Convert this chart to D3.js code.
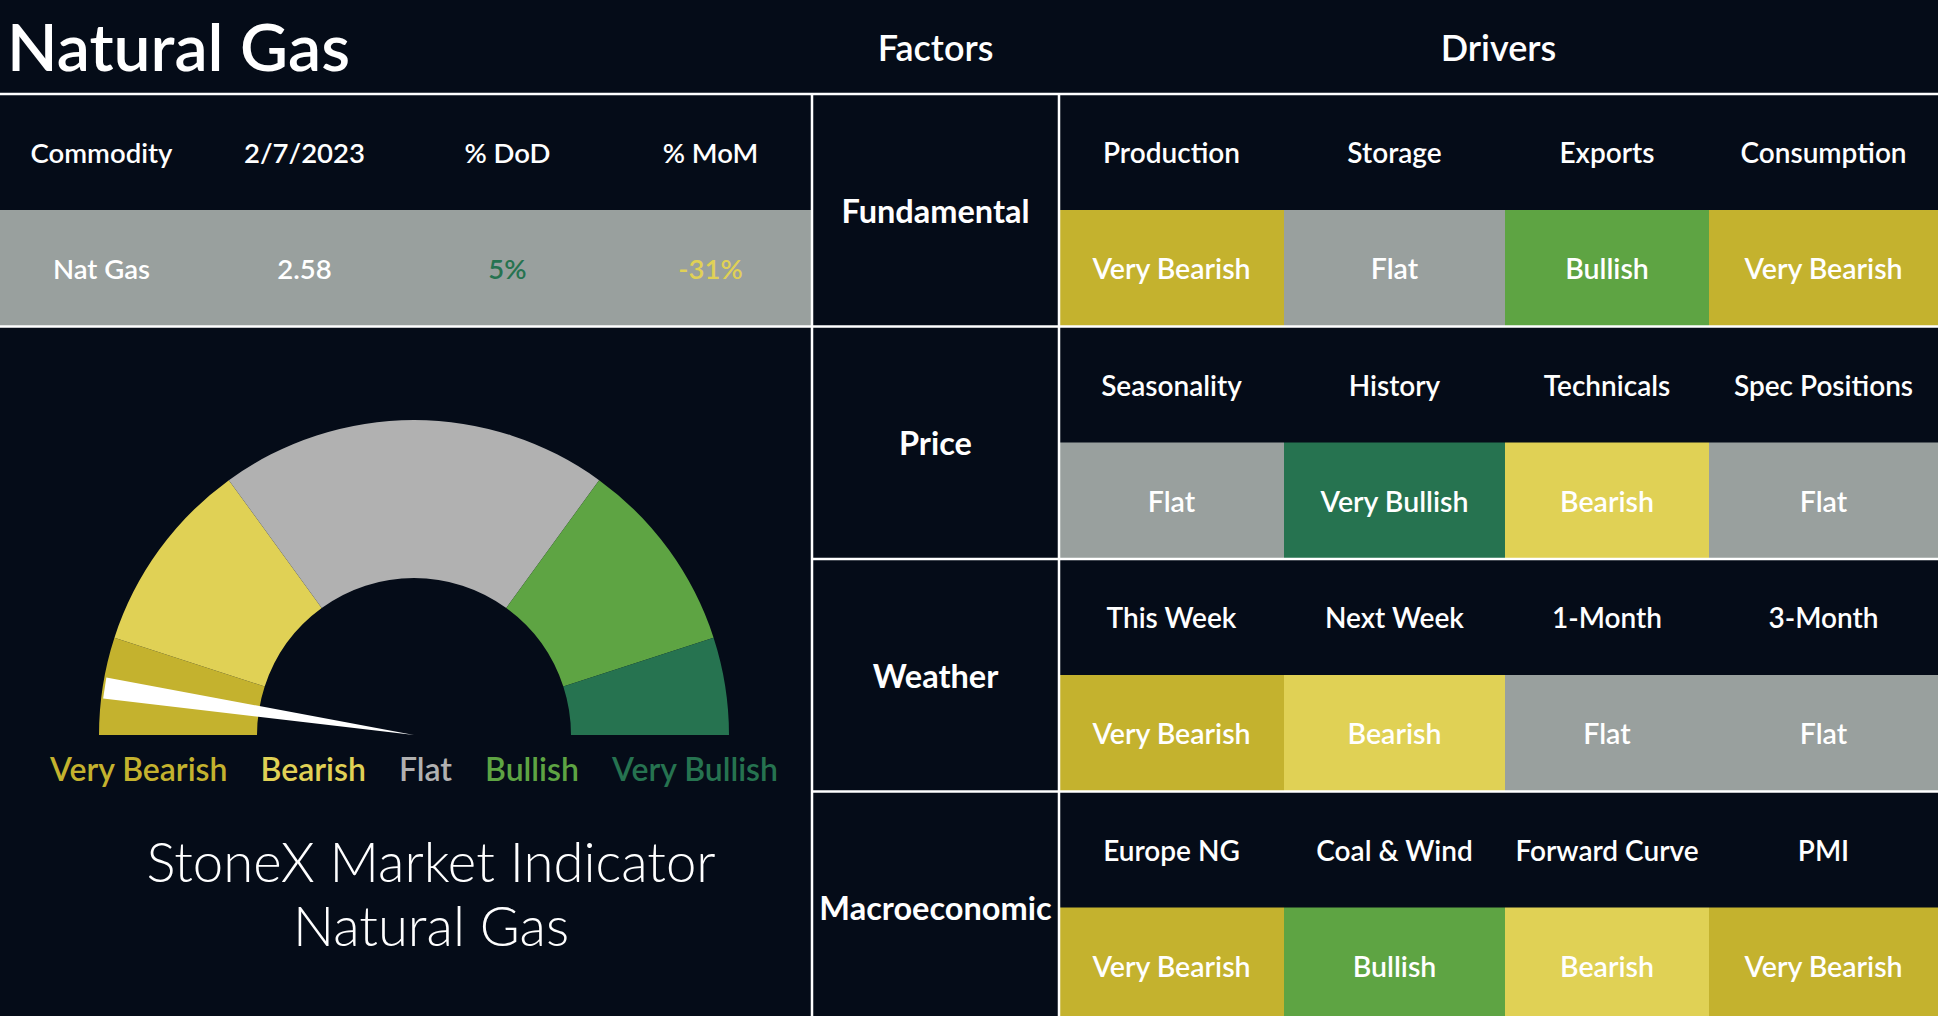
<!DOCTYPE html>
<html>
<head>
<meta charset="utf-8">
<script src="https://cdn.jsdelivr.net/npm/d3@7"></script>
<style>
  html, body { margin: 0; padding: 0; background: #050c18; }
  svg text { font-family: Lato, "Noto Sans", sans-serif; }
</style>
</head>
<body>
<div id="board"></div>
<script>
// commodity table
var tableHeader = ["Commodity", "2/7/2023", "% DoD", "% MoM"];
var tableRow = ["Nat Gas", "2.58", "5%", "-31%"];

// factor / driver grid
var factors = ["Fundamental", "Price", "Weather", "Macroeconomic"];
var drivers = [
	["Production", "Storage", "Exports", "Consumption"],
	["Seasonality", "History", "Technicals", "Spec Positions"],
	["This Week", "Next Week", "1-Month", "3-Month"],
	["Europe NG", "Coal & Wind", "Forward Curve", "PMI"]
];
var signals = [
	["Very Bearish", "Flat", "Bullish", "Very Bearish"],
	["Flat", "Very Bullish", "Bearish", "Flat"],
	["Very Bearish", "Bearish", "Flat", "Flat"],
	["Very Bearish", "Bullish", "Bearish", "Very Bearish"]
];

// gauge
var levels = ["Very Bearish", "Bearish", "Flat", "Bullish", "Very Bullish"];
var bandSizes = [10, 20, 40, 20, 10];   // share of the half circle, out of 100
var needleValue = 4.8;                   // 0 = very bearish, 100 = very bullish

(function drawBoard () {
	var W = 1938, H = 1016;
	var bg = "#050c18";
	var line = "#ffffff";

	var gaugeColor = d3.scaleOrdinal()
		.domain(levels)
		.range(["#c4b22e", "#e0d155", "#b1b1b1", "#5ea443", "#267350"]);
	// table cells use a darker grey for "Flat"
	var cellColor = function (s) { return s === "Flat" ? "#99a09e" : gaugeColor(s); };

	var svg = d3.select("#board").append("svg")
		.attr("width", W)
		.attr("height", H);

	svg.append("rect").attr("width", W).attr("height", H).attr("fill", bg);

	var leftW = 812;          // commodity + gauge panel
	var factorX1 = 1059;      // end of the factor column
	var driverEdges = [factorX1, 1284, 1505, 1709, W];
	var topY = 94;
	var rowH = 116;

	// ---- title bar
	svg.append("text")
		.attr("x", 7).attr("y", 71)
		.attr("fill", "#fff")
		.attr("font-size", 66)
		.attr("font-weight", 600)
		.text("Natural Gas");

	svg.append("text")
		.attr("x", (leftW + factorX1) / 2).attr("y", 47)
		.attr("text-anchor", "middle").attr("dominant-baseline", "central")
		.attr("fill", "#fff").attr("font-size", 36).attr("font-weight", 600)
		.text("Factors");
	svg.append("text")
		.attr("x", (factorX1 + W) / 2).attr("y", 47)
		.attr("text-anchor", "middle").attr("dominant-baseline", "central")
		.attr("fill", "#fff").attr("font-size", 36).attr("font-weight", 600)
		.text("Drivers");

	// ---- commodity table
	var colX = d3.scaleBand().domain(d3.range(tableHeader.length)).range([0, leftW]);
	svg.append("rect")
		.attr("x", 0).attr("y", topY + rowH)
		.attr("width", leftW).attr("height", rowH)
		.attr("fill", "#99a09e");

	svg.append("g").selectAll("text")
		.data(tableHeader)
		.enter().append("text")
		.attr("x", function (d, i) { return colX(i) + colX.bandwidth() / 2; })
		.attr("y", topY + rowH / 2)
		.attr("text-anchor", "middle").attr("dominant-baseline", "central")
		.attr("fill", "#fff").attr("font-size", 27.5).attr("font-weight", 600)
		.text(function (d) { return d; });

	var rowColors = ["#fff", "#fff", "#267350", "#e0d155"];
	svg.append("g").selectAll("text")
		.data(tableRow)
		.enter().append("text")
		.attr("x", function (d, i) { return colX(i) + colX.bandwidth() / 2; })
		.attr("y", topY + rowH * 1.5)
		.attr("text-anchor", "middle").attr("dominant-baseline", "central")
		.attr("fill", function (d, i) { return rowColors[i]; })
		.attr("font-size", 27.5).attr("font-weight", 600)
		.text(function (d) { return d; });

	// ---- factor grid
	var blockY = d3.scaleLinear().domain([0, 1]).range([topY, topY + 2 * rowH + 0.5]);

	factors.forEach(function (f, fi) {
		var y0 = blockY(fi);
		var g = svg.append("g").attr("class", "factor");

		g.selectAll("rect")
			.data(signals[fi])
			.enter().append("rect")
			.attr("x", function (d, i) { return driverEdges[i]; })
			.attr("y", y0 + rowH)
			.attr("width", function (d, i) { return driverEdges[i + 1] - driverEdges[i]; })
			.attr("height", rowH)
			.attr("fill", function (d) { return cellColor(d); });

		g.selectAll("text.driver")
			.data(drivers[fi])
			.enter().append("text")
			.attr("class", "driver")
			.attr("x", function (d, i) { return (driverEdges[i] + driverEdges[i + 1]) / 2; })
			.attr("y", y0 + rowH / 2)
			.attr("text-anchor", "middle").attr("dominant-baseline", "central")
			.attr("fill", "#fff").attr("font-size", 28).attr("font-weight", 600)
			.text(function (d) { return d; });

		g.selectAll("text.signal")
			.data(signals[fi])
			.enter().append("text")
			.attr("class", "signal")
			.attr("x", function (d, i) { return (driverEdges[i] + driverEdges[i + 1]) / 2; })
			.attr("y", y0 + rowH * 1.5)
			.attr("text-anchor", "middle").attr("dominant-baseline", "central")
			.attr("fill", "#fff").attr("font-size", 28.5).attr("font-weight", 600)
			.text(function (d) { return d; });

		g.append("text")
			.attr("x", (leftW + factorX1) / 2)
			.attr("y", y0 + rowH)
			.attr("text-anchor", "middle").attr("dominant-baseline", "central")
			.attr("fill", "#fff").attr("font-size", 32.5).attr("font-weight", 700)
			.text(f);
	});

	// ---- grid lines
	var lines = svg.append("g").attr("stroke", line).attr("stroke-width", 2.5);
	lines.append("line").attr("x1", 0).attr("x2", W).attr("y1", topY).attr("y2", topY);
	lines.append("line").attr("x1", 0).attr("x2", W).attr("y1", blockY(1)).attr("y2", blockY(1));
	[2, 3].forEach(function (k) {
		lines.append("line").attr("x1", leftW).attr("x2", W).attr("y1", blockY(k)).attr("y2", blockY(k));
	});
	[leftW, factorX1].forEach(function (x) {
		lines.append("line").attr("x1", x).attr("x2", x).attr("y1", topY).attr("y2", H);
	});

	// ---- gauge
	var cx = 414, cy = 735, rOut = 315, rIn = 157;
	var angle = d3.scaleLinear().domain([0, 100]).range([-Math.PI / 2, Math.PI / 2]);

	var pie = d3.pie().sort(null)
		.startAngle(angle(0)).endAngle(angle(100))
		.value(function (d) { return d; });
	var arc = d3.arc().innerRadius(rIn).outerRadius(rOut);

	var gauge = svg.append("g").attr("transform", "translate(" + cx + "," + cy + ")");
	gauge.selectAll("path.band")
		.data(pie(bandSizes))
		.enter().append("path")
		.attr("class", "band")
		.attr("d", arc)
		.attr("fill", function (d, i) { return gaugeColor(levels[i]); });

	var a = angle(needleValue), da = 0.034, rn = 313;
	var needlePts = [
		[0, 0],
		[Math.sin(a - da) * rn, -Math.cos(a - da) * rn],
		[Math.sin(a + da) * rn, -Math.cos(a + da) * rn]
	];
	gauge.append("path")
		.attr("d", d3.line()(needlePts) + "Z")
		.attr("fill", "#fff");

	// legend row, centred under the gauge
	var legend = svg.append("g");
	var items = legend.selectAll("text")
		.data(levels)
		.enter().append("text")
		.attr("y", 768)
		.attr("dominant-baseline", "central")
		.attr("fill", function (d) { return gaugeColor(d); })
		.attr("font-size", 32).attr("font-weight", 600)
		.text(function (d) { return d; });
	var gap = 33, widths = [];
	items.each(function () { widths.push(this.getComputedTextLength()); });
	var total = d3.sum(widths) + gap * (widths.length - 1);
	var xx = cx - total / 2;
	items.attr("x", function (d, i) {
		var x = xx;
		xx += widths[i] + gap;
		return x;
	});

	svg.append("text")
		.attr("x", 431).attr("y", 861)
		.attr("text-anchor", "middle").attr("dominant-baseline", "central")
		.attr("fill", "#fff").attr("font-size", 54.5).attr("font-weight", 300)
		.text("StoneX Market Indicator");
	svg.append("text")
		.attr("x", 431).attr("y", 925)
		.attr("text-anchor", "middle").attr("dominant-baseline", "central")
		.attr("fill", "#fff").attr("font-size", 54.5).attr("font-weight", 300)
		.text("Natural Gas");
})();
</script>
</body>
</html>
